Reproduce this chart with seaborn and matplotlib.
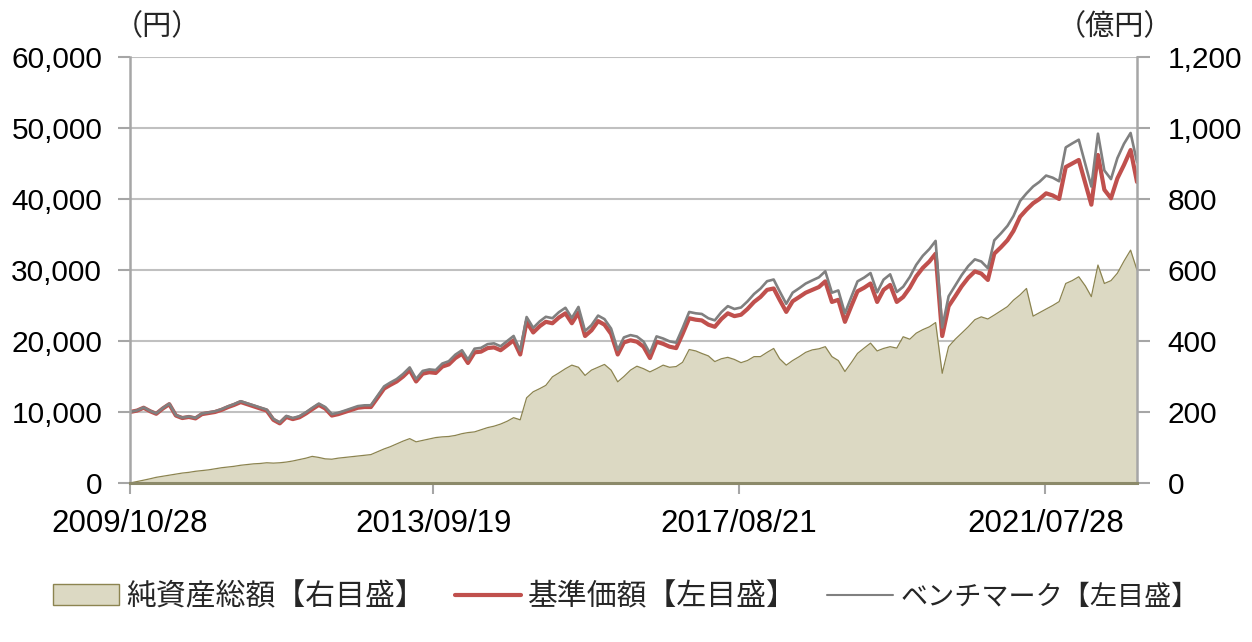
import pandas as pd
import matplotlib
matplotlib.use("Agg")
import matplotlib.pyplot as plt
import matplotlib.patches as mpatches
from matplotlib.lines import Line2D
import seaborn as sns

sns.set_theme(style="white")
plt.rcParams["font.family"] = ["Liberation Sans", "Noto Sans CJK JP"]
plt.rcParams["axes.unicode_minus"] = False

# x axis: first day, then month ends up to 2022/09
first_day = "2009-10-28"
tick_dates = ["2009-10-28", "2013-09-19", "2017-08-21", "2021-07-28"]
tick_labels = ["2009/10/28", "2013/09/19", "2017/08/21", "2021/07/28"]

# 基準価額 (円)
fund_nav = [
    10000, 10200, 10600, 10100, 9750, 10500, 11100, 9500, 9150, 9300,
    9100, 9700, 9850, 10000, 10300, 10700, 11000, 11400, 11100, 10800,
    10500, 10200, 8900, 8400, 9300, 9000, 9250, 9800, 10400, 11000,
    10500, 9500, 9700, 10000, 10300, 10600, 10700, 10700, 12000, 13300,
    13800, 14300, 15000, 15900, 14300, 15400, 15600, 15500, 16400, 16700,
    17600, 18200, 16900, 18400, 18500, 19000, 19100, 18700, 19400, 20100,
    18100, 22700, 21200, 22100, 22700, 22500, 23300, 23900, 22500, 24000,
    20700, 21500, 22800, 22300, 21000, 18100, 19800, 20100, 19900, 19200,
    17600, 19900, 19600, 19200, 19000, 21000, 23200, 23000, 22900, 22300,
    22000, 23100, 23900, 23500, 23700, 24500, 25500, 26200, 27200, 27400,
    25800, 24100, 25600, 26200, 26800, 27200, 27600, 28400, 25500, 25800,
    22700, 25000, 27000, 27500, 28100, 25500, 27200, 27900, 25500, 26200,
    27500, 29100, 30300, 31200, 32300, 20700, 24900, 26300, 27700, 28900,
    29800, 29500, 28600, 32300, 33200, 34200, 35500, 37500, 38500, 39400,
    40000, 40800, 40500, 40000, 44500, 45000, 45500, 42200, 39200, 46200,
    41300, 40100, 42900, 44800, 46900, 42400,
]

# ベンチマーク (円)
benchmark = [
    10000, 10230, 10640, 10150, 9800, 10560, 11170, 9560, 9210, 9370,
    9170, 9780, 9930, 10090, 10400, 10800, 11110, 11520, 11220, 10930,
    10630, 10340, 9030, 8530, 9450, 9150, 9410, 9970, 10580, 11190,
    10700, 9690, 9900, 10200, 10520, 10830, 10940, 10950, 12280, 13610,
    14130, 14640, 15360, 16280, 14650, 15790, 16000, 15910, 16830, 17150,
    18080, 18700, 17380, 18920, 19030, 19560, 19670, 19260, 19990, 20710,
    18660, 23380, 21850, 22780, 23410, 23210, 24050, 24680, 23240, 24800,
    21400, 22230, 23580, 23080, 21750, 18750, 20510, 20830, 20630, 19920,
    18280, 20650, 20350, 19950, 19760, 21810, 24090, 23900, 23810, 23200,
    22910, 24070, 24910, 24510, 24720, 25570, 26620, 27370, 28420, 28660,
    27000, 25240, 26810, 27440, 28090, 28540, 28970, 29820, 26800, 27120,
    23900, 26290, 28400, 28930, 29570, 26850, 28640, 29390, 26900, 27640,
    29020, 30720, 32000, 32960, 34100, 21900, 26300, 27800, 29270, 30550,
    31500, 31200, 30250, 34180, 35150, 36220, 37600, 39720, 40790, 41760,
    42420, 43300, 43000, 42500, 47270, 47820, 48350, 44900, 41750, 49200,
    44020, 42800, 45750, 47780, 49300, 45200,
]

# 純資産総額 (億円)
net_assets = [
    0, 4, 8, 12, 16, 19, 22, 25, 28, 30,
    33, 35, 37, 40, 43, 45, 47, 50, 52, 54,
    55, 57, 56, 57, 59, 62, 66, 70, 75, 72,
    68, 67, 70, 72, 74, 76, 78, 80, 88, 96,
    102, 110, 118, 125, 116, 120, 124, 128, 130, 131,
    134, 139, 142, 144, 150, 156, 160, 166, 174, 184,
    178, 240, 257, 266, 275, 299, 310, 322, 332, 326,
    303, 318, 326, 334, 318, 285, 300, 318, 329, 322,
    313, 322, 332, 326, 328, 340, 376, 372, 365, 358,
    342, 350, 354, 348, 339, 345, 356, 356, 368, 379,
    350, 332, 345, 356, 368, 375, 378, 384, 356, 345,
    314, 340, 365, 380, 394, 372, 379, 384, 380, 412,
    405, 422, 432, 440, 452, 309, 384, 405, 422, 440,
    460, 468, 462, 473, 485, 497, 515, 530, 548, 470,
    480, 490, 500, 511, 562, 570, 581, 555, 525, 614,
    562, 570, 591, 625, 656, 600,
]

legend_labels = ["純資産総額【右目盛】", "基準価額【左目盛】", "ベンチマーク【左目盛】"]

dates = pd.DatetimeIndex([pd.Timestamp(first_day)]).append(
    pd.date_range("2009-11-30", periods=len(fund_nav) - 1, freq="ME"))
df = pd.DataFrame({"date": dates, "fund": fund_nav, "bm": benchmark, "assets": net_assets})

W, H = 1252, 642
fig = plt.figure(figsize=(W / 100, H / 100), dpi=100)
ax = fig.add_axes([130 / W, 1 - 483 / H, 1007 / W, 426 / H])
ax2 = ax.twinx()
ax.set_zorder(2)
ax2.set_zorder(1)
ax.patch.set_visible(False)

# area (right axis)
ax2.fill_between(df["date"], df["assets"], 0, color="#dcd9c3", lw=0, zorder=2)
sns.lineplot(data=df, x="date", y="assets", ax=ax2, color="#8c8450", lw=0.9, zorder=3)
# lines (left axis)
sns.lineplot(data=df, x="date", y="fund", ax=ax, color="#c0504d", lw=3.0)
sns.lineplot(data=df, x="date", y="bm", ax=ax, color="#808080", lw=1.9)

ax.set_ylim(0, 60000)
ax2.set_ylim(0, 1200)
ax.set_yticks(range(0, 60001, 10000))
ax.set_yticklabels([f"{v:,}" for v in range(0, 60001, 10000)])
ax2.set_yticks(range(0, 1201, 200))
ax2.set_yticklabels([f"{v:,}" for v in range(0, 1201, 200)])
ax.set_xlim(pd.Timestamp(first_day), df["date"].iloc[-1])
ax.set_xticks(pd.to_datetime(tick_dates))
ax.set_xticklabels(tick_labels)

ax.grid(False)
ax2.grid(False)
ax2.yaxis.grid(True, color="#c0c0c0", lw=1.5)
ax2.set_axisbelow(True)

for a in (ax, ax2):
    a.set_xlabel("")
    a.set_ylabel("")
ax.tick_params(axis="y", left=True, length=9, width=1.5, color="#a6a6a6",
               labelsize=21.5, pad=11, labelcolor="black")
ax.tick_params(axis="x", bottom=True, length=8, width=1.5, color="#a6a6a6",
               labelsize=22.5, pad=11, labelcolor="black")
ax2.tick_params(axis="y", right=True, length=9, width=1.5, color="#a6a6a6",
                labelsize=21.5, pad=13, labelcolor="black")

for s in ax2.spines.values():
    s.set_visible(False)
ax.spines["top"].set_visible(False)
ax.spines["left"].set_color("#a6a6a6")
ax.spines["left"].set_linewidth(1.8)
ax.spines["right"].set_visible(True)
ax.spines["right"].set_color("#a6a6a6")
ax.spines["right"].set_linewidth(1.8)
ax.spines["bottom"].set_color("#8c8a6a")
ax.spines["bottom"].set_linewidth(2.2)

fig.text(157 / W, 1 - 27 / H, "（円）", ha="center", va="center", fontsize=21)
fig.text(1115 / W, 1 - 27 / H, "（億円）", ha="center", va="center", fontsize=21)

handles = [
    mpatches.Patch(facecolor="#dcd9c3", edgecolor="#8c8450", lw=1),
    Line2D([], [], color="#c0504d", lw=3),
    Line2D([], [], color="#808080", lw=1.5),
]
leg = fig.legend(handles, legend_labels, loc="center", bbox_to_anchor=(0.5, 1 - 597 / H),
                 ncol=3, frameon=False, fontsize=21.5, handlelength=2.2,
                 handletextpad=0.25, columnspacing=1.0)
leg.get_texts()[2].set_fontsize(19.5)

fig.savefig("out.png", dpi=100)
